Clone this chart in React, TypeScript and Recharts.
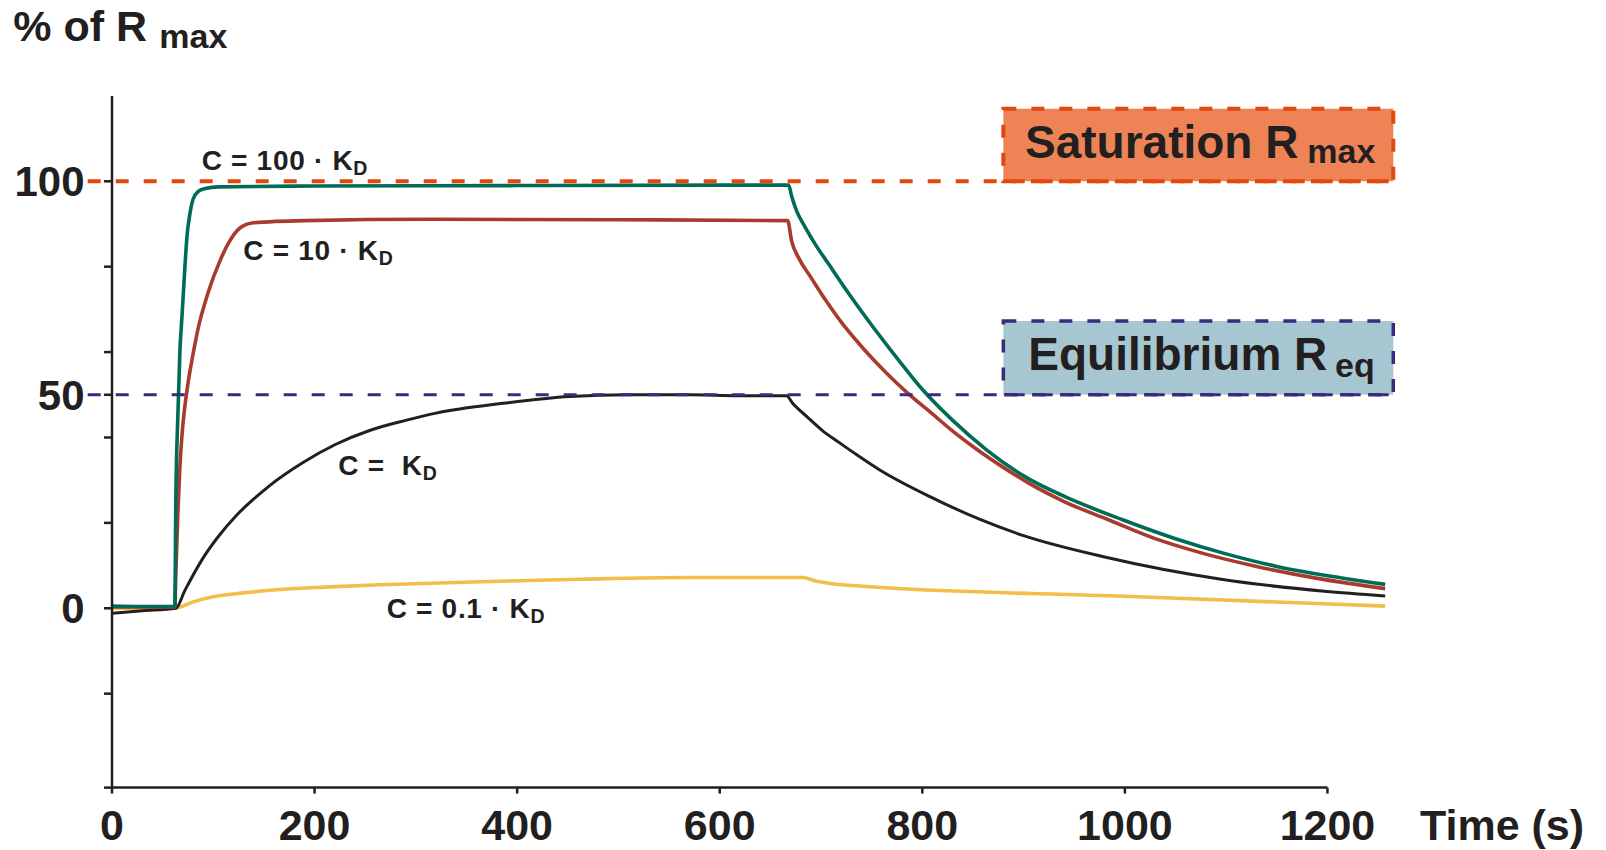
import React from 'react';
import { LineChart, Line, XAxis, YAxis, ReferenceLine, ReferenceArea } from 'recharts';

// [time (s), % of Rmax]
const curve100KD = [
  [0, 0.5], [30, 0.4], [62, 0.4], [63, 25], [65, 45], [67, 60], [69, 68], [72, 80], [74, 87],
  [77, 92.5], [80, 95.8], [85, 97.6], [92, 98.3], [105, 98.7], [200, 98.9], [400, 99.0],
  [600, 99.1], [668, 99.1], [671, 96.5], [676, 93], [684, 89.4], [695, 85], [707, 80.8],
  [728, 73.5], [751, 66], [775, 58.6], [801, 51], [830, 44], [864, 37], [900, 31],
  [950, 25.2], [997, 20.8], [1050, 16.3], [1099, 12.8], [1150, 9.8], [1214, 7.1], [1257, 5.6],
];
const curve10KD = [
  [0, 0.3], [62, 0.3], [63, 8], [65, 22], [67, 33], [70, 43], [74, 51], [80, 59.5], [85, 65.5],
  [95, 74], [107, 81.6], [115, 85.5], [126, 89], [140, 90.3], [190, 90.8], [314, 91.1],
  [500, 91.0], [667, 90.8], [671, 86], [679, 81.6], [690, 77.5], [705, 72], [720, 67],
  [743, 60.5], [765, 55], [785, 50.5], [810, 45.5], [830, 41.5], [854, 37.2], [880, 33],
  [905, 29.3], [940, 25], [983, 20.8], [1030, 16.3], [1078, 12.8], [1130, 9.8], [1190, 7],
  [1257, 4.6],
];
const curve1KD = [
  [0, -1.2], [30, -0.6], [63, 0], [72, 4.2], [90, 11.8], [105, 16.8], [123, 21.8],
  [140, 25.6], [156, 28.8], [189, 34.2], [220, 38.3], [255, 41.7], [290, 44], [320, 45.7],
  [386, 48], [452, 49.6], [510, 50], [570, 50], [620, 49.8], [666, 49.8], [672, 48],
  [686, 44.9], [702, 41.5], [718, 38.8], [735, 36], [758, 32.4], [808, 26.1], [857, 20.8],
  [900, 17], [980, 12], [1095, 6.8], [1197, 4], [1257, 2.9],
];
const curve01KD = [
  [0, 0], [63.8, 0.1], [80, 1.5], [100, 2.7], [130, 3.6], [166, 4.4], [215, 5.0], [265, 5.5],
  [363, 6.2], [462, 6.8], [570, 7.2], [682, 7.2], [695, 6.4], [709, 5.8], [738, 5.2],
  [1000, 2.8], [1257, 0.5],
];

const xTicks = [0, 200, 400, 600, 800, 1000, 1200];
const yTicks = [-42, -20, 0, 20, 40, 50, 60, 80, 100];
const yLabels = [0, 50, 100];

const INK = '#231f20';
const FONT = '"Liberation Sans", Arial, sans-serif';

const toPoints = (pairs: number[][]) => pairs.map(([t, r]) => ({ t, r }));

function YTick({ x, y, payload }: any) {
  if (!yLabels.includes(payload.value)) return <g />;
  return (
    <text x={x} y={y} dy="0.355em" textAnchor="end" fontSize={42} fontWeight="bold" fill={INK} fontFamily={FONT}>
      {payload.value}
    </text>
  );
}

function XTick({ x, y, payload }: any) {
  return (
    <text x={x} y={y} dy="0.71em" textAnchor="middle" fontSize={43} fontWeight="bold" fill={INK} fontFamily={FONT}>
      {payload.value}
    </text>
  );
}

function CLabel({ x, y, text }: { x: number; y: number; text: string }) {
  return (
    <text x={x} y={y} fontSize={28} fontWeight="bold" fill={INK} fontFamily={FONT} letterSpacing={0.7} xmlSpace="preserve">
      {text}
      <tspan fontSize={19.5} dy={5}>D</tspan>
    </text>
  );
}

export default function App() {
  return (
    <div style={{ position: 'absolute', left: 0, top: 0, width: 1606, height: 850, background: '#fff' }}>
      <LineChart width={1606} height={850} margin={{ top: 95.9, right: 212.7, bottom: 0, left: 0 }}>
        <XAxis
          type="number"
          dataKey="t"
          domain={[0, 1265]}
          ticks={xTicks}
          interval={0}
          height={62.4}
          axisLine={false}
          tickLine={{ stroke: INK, strokeWidth: 2.5 }}
          tickSize={6}
          tickMargin={16}
          tick={<XTick />}
        />
        <YAxis
          type="number"
          domain={[-42, 120]}
          ticks={yTicks}
          interval={0}
          width={112}
          axisLine={{ stroke: INK, strokeWidth: 2.5 }}
          tickLine={{ stroke: INK, strokeWidth: 2.5 }}
          tickSize={8}
          tickMargin={19.5}
          tick={<YTick />}
        />
        <ReferenceArea x1={880} x2={1265} y1={100} y2={117} fill="#ee8456" fillOpacity={1}
          stroke="#e2470e" strokeWidth={4} strokeDasharray="13 15" ifOverflow="visible" />
        <ReferenceArea x1={880} x2={1265} y1={50} y2={67.3} fill="#a6c7d2" fillOpacity={1}
          stroke="#3b2a7a" strokeWidth={3.5} strokeDasharray="13 15" ifOverflow="visible" />
        <Line data={toPoints(curve01KD)} dataKey="r" type="monotone" stroke="#f2be4a" strokeWidth={3.6} dot={false} isAnimationActive={false} />
        <Line data={toPoints(curve1KD)} dataKey="r" type="monotone" stroke={INK} strokeWidth={3} dot={false} isAnimationActive={false} />
        <Line data={toPoints(curve10KD)} dataKey="r" type="monotone" stroke="#a93b2e" strokeWidth={3.6} dot={false} isAnimationActive={false} />
        <Line data={toPoints(curve100KD)} dataKey="r" type="monotone" stroke="#006b57" strokeWidth={3.6} dot={false} isAnimationActive={false} />
        <ReferenceLine segment={[{ x: -24, y: 100 }, { x: 1265, y: 100 }]} stroke="#e2470e" strokeWidth={4}
          strokeDasharray="13 15" ifOverflow="visible" />
        <ReferenceLine segment={[{ x: -24, y: 50 }, { x: 1265, y: 50 }]} stroke="#3b2a7a" strokeWidth={3}
          strokeDasharray="13 15" ifOverflow="visible" />
        <ReferenceLine segment={[{ x: 0, y: -42 }, { x: 1200, y: -42 }]} stroke={INK} strokeWidth={2.5} ifOverflow="visible" />
      </LineChart>
      <svg width={1606} height={850} style={{ position: 'absolute', left: 0, top: 0, pointerEvents: 'none' }}>
        <text x={13.3} y={40.7} fontSize={43} fontWeight="bold" fill={INK} fontFamily={FONT}>
          % of R
        </text>
        <text x={159.3} y={48.3} fontSize={34} fontWeight="bold" fill={INK} fontFamily={FONT}>max</text>
        <text x={1420} y={840} fontSize={43} fontWeight="bold" fill={INK} fontFamily={FONT}>Time (s)</text>

        <text x={1025} y={158.3} fontSize={46} fontWeight="bold" fill={INK} fontFamily={FONT}>Saturation R</text>
        <text x={1307.3} y={163.3} fontSize={34} fontWeight="bold" fill={INK} fontFamily={FONT}>max</text>
        <text x={1028.3} y={370} fontSize={46} fontWeight="bold" fill={INK} fontFamily={FONT}>Equilibrium R</text>
        <text x={1335} y={376.7} fontSize={34} fontWeight="bold" fill={INK} fontFamily={FONT}>eq</text>

        <CLabel x={201.7} y={170} text="C = 100 · K" />
        <CLabel x={243.3} y={260} text="C = 10 · K" />
        <CLabel x={338.3} y={475} text="C =  K" />
        <CLabel x={386.7} y={618.3} text="C = 0.1 · K" />
      </svg>
    </div>
  );
}
